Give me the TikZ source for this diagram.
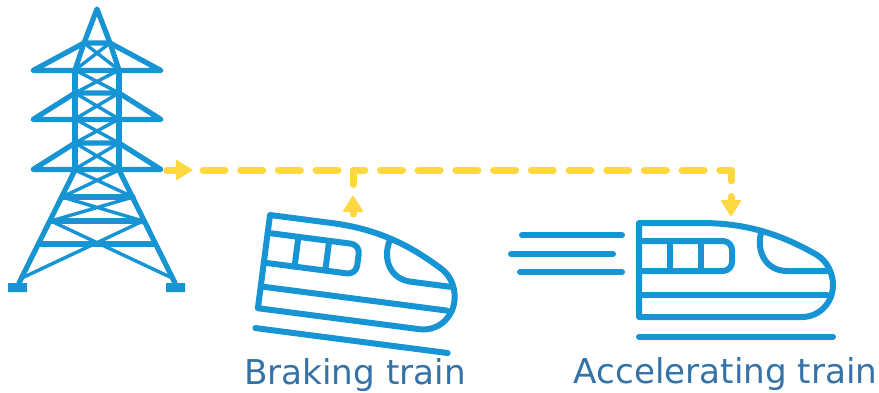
\documentclass[tikz,border=0pt]{standalone}
\usepackage{fontspec}
\setmainfont{DejaVu Sans}
\usepackage{xcolor}
\usetikzlibrary{arrows.meta, positioning}

\definecolor{towerblue}{HTML}{1694D3}
\definecolor{poweryellow}{HTML}{FFD740}
\definecolor{labelblue}{HTML}{3572A5}

\tikzset{
  strut/.style={draw=towerblue, line width=5.2pt, line cap=round, line join=round},
  brace/.style={draw=towerblue, line width=3.4pt, line cap=round, line join=round},
  trainline/.style={draw=towerblue, line width=6pt, line cap=round, line join=round},
  wire/.style={draw=poweryellow, line width=7pt, line cap=round, line join=round},
  wiredash/.style={wire, dash pattern=on 22pt off 15.7pt},
  powerarrow/.style={wire, -{Triangle[width=21pt, length=17pt, line width=2pt, round]}},
  trainlabel/.style={text=labelblue, font=\fontsize{34.2}{40}\selectfont, inner sep=0pt, anchor=base},
  train/.pic={
    \draw[trainline] (0,0) -- (62,0) .. controls (105,0) and (140,10) .. (178,32)
      .. controls (188,38) and (194,50) .. (194,62)
      .. controls (194,80) and (180,94) .. (163,94) -- (0,94) -- cycle;
    \draw[trainline, rounded corners=9pt] (0,18) -- (93,18) -- (93,48) -- (0,48);
    \draw[trainline] (31,18) -- (31,48);
    \draw[trainline] (62,18) -- (62,48);
    \draw[trainline] (122,10) .. controls (117,30) and (128,48) .. (148,48) -- (188,48);
    \draw[trainline] (0,72) -- (188,72);
    \draw[trainline] (0,114) -- (194,114);
  }
}

\begin{document}
\begin{tikzpicture}[x=1pt, y=-1pt]
  \useasboundingbox (0,0) rectangle (879,392);

  % tower
  \draw[brace] (84,43) -- (119,70) (110,43) -- (75,70);
  \foreach \ya/\yb in {70/93, 93/119, 119/143, 143/169} {
    \draw[brace] (75,\ya) -- (119,\yb) (119,\ya) -- (75,\yb);
  }
  \draw[brace] (75,170) -- (133,197) (119,170) -- (62,197);
  \draw[brace] (62,197) -- (143,221) (133,197) -- (51,221);
  \draw[brace] (51,221) -- (170,277) (143,221) -- (24,277);
  \draw[strut] (75,70) -- (84,43) -- (97,9) -- (110,43) -- (119,70);
  \draw[strut] (33,70.5) -- (84,43) -- (110,43) -- (161,70.5) -- cycle;
  \draw[strut] (75,70) -- (75,170) (119,70) -- (119,170);
  \foreach \ya/\yb in {93/119.5, 143/169.5} {
    \draw[strut] (75,\ya) -- (33,\yb) -- (161,\yb) -- (119,\ya) -- cycle;
  }
  \draw[strut] (75,170) -- (19,283) (119,170) -- (175,283);
  \draw[strut] (62,197) -- (133,197) (51,221) -- (143,221) (40,244) -- (155,244);
  \fill[towerblue] (8,283) rectangle (27,292) (166,283) rectangle (185,292);

  % trains
  \pic[rotate=-7.4] at (270,215) {train};
  \pic at (639,223) {train};
  \draw[trainline] (522,235) -- (622,235);
  \draw[trainline] (511,254) -- (613,254);
  \draw[trainline] (520,272) -- (622,272);

  \node[trainlabel] (braking) at (355,384) {Braking train};
  \node[trainlabel] (accelerating) at (725.5,383) {Accelerating train};

  % power flow
  \coordinate (towerout) at (167,170);
  \coordinate (towerhead) at (192,170);
  \coordinate (linestart) at (203,170);
  \coordinate (junction) at (353,170);
  \coordinate (brakeend) at (353,184.5);
  \coordinate (firstdash) at (365,170);
  \coordinate (linenext) at (380.5,170);
  \coordinate (accelend) at (731,181);
  \coordinate (brakefrom) at (353,214);
  \coordinate (braketo) at (353,196);
  \coordinate (accelfrom) at (731,196.5);
  \coordinate (accelto) at (731,216);

  \draw[powerarrow] (towerout) -- (towerhead);
  \draw[wiredash] (linestart) -- (junction);
  \draw[wire] (brakeend) |- (firstdash);
  \draw[wiredash] (linenext) -| (accelend);
  \draw[powerarrow] (brakefrom) -- (braketo);
  \draw[powerarrow] (accelfrom) -- (accelto);
\end{tikzpicture}
\end{document}
